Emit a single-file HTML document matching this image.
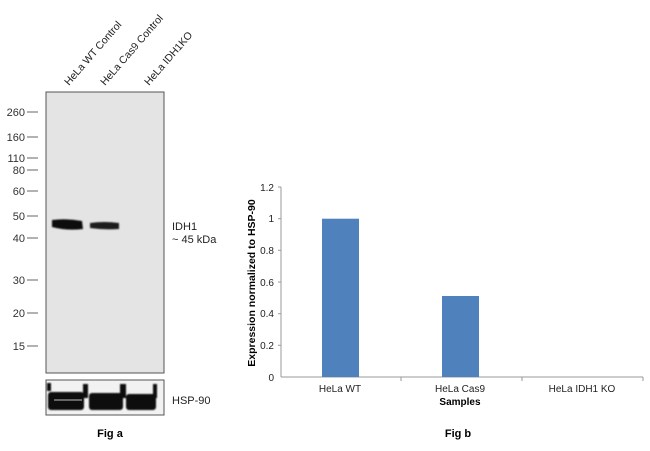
<!DOCTYPE html><html><head><style>body{margin:0;background:#fff}svg{font-family:"Liberation Sans",Arial,sans-serif}</style></head><body>
<svg width="650" height="446" viewBox="0 0 650 446">
<defs><filter id="b"><feGaussianBlur stdDeviation="0.9"/></filter></defs>
<rect x="46" y="92" width="118" height="281" fill="#e4e4e4" stroke="#555" stroke-width="1"/>
<g filter="url(#b)">
<path d="M52 220 Q67 218 82 221 L83 229 Q67 231 52 227 Z" fill="#111"/>
<path d="M90 223 Q104 221 119 223 L119 229 Q104 230 90 228 Z" fill="#1a1a1a"/>
</g>
<rect x="46" y="380" width="118" height="35" fill="#f2f2f2" stroke="#555"/>
<g filter="url(#b)" fill="#111">
<rect x="48" y="392" width="36" height="18" rx="3"/>
<rect x="89" y="393" width="34" height="17" rx="3"/>
<rect x="126" y="394" width="30" height="16" rx="3"/>
<rect x="47" y="383" width="4" height="8"/><rect x="83" y="384" width="5" height="14"/><rect x="120" y="384" width="6" height="14"/><rect x="153" y="384" width="4" height="14"/>
</g>
<rect x="54" y="399" width="28" height="2" fill="#666"/>
<g font-size="11" fill="#333" text-anchor="end">
<text x="25" y="116">260</text><text x="25" y="141">160</text><text x="25" y="162">110</text><text x="25" y="174">80</text><text x="25" y="195">60</text><text x="25" y="220">50</text><text x="25" y="242">40</text><text x="25" y="284">30</text><text x="25" y="317">20</text><text x="25" y="350">15</text>
</g>
<g stroke="#666" stroke-width="1">
<line x1="27" y1="112" x2="38" y2="112"/><line x1="27" y1="137" x2="38" y2="137"/><line x1="27" y1="158" x2="38" y2="158"/><line x1="27" y1="170" x2="38" y2="170"/><line x1="27" y1="191" x2="38" y2="191"/><line x1="27" y1="216" x2="38" y2="216"/><line x1="27" y1="238" x2="38" y2="238"/><line x1="27" y1="280" x2="38" y2="280"/><line x1="27" y1="313" x2="38" y2="313"/><line x1="27" y1="346" x2="38" y2="346"/>
</g>
<g font-size="10.5" fill="#222">
<text transform="translate(69,86) rotate(-49)">HeLa WT Control</text>
<text transform="translate(105,86) rotate(-49)">HeLa Cas9 Control</text>
<text transform="translate(149,86) rotate(-49)">HeLa IDH1KO</text>
</g>
<text x="172" y="230" font-size="11" fill="#222">IDH1</text>
<text x="172" y="243" font-size="11" fill="#222">~ 45 kDa</text>
<text x="172" y="404" font-size="11" fill="#222">HSP-90</text>
<text x="110" y="437" font-size="11" font-weight="bold" text-anchor="middle">Fig a</text>
<g stroke="#999" stroke-width="1">
<line x1="281" y1="187" x2="281" y2="377"/><line x1="281" y1="377" x2="643" y2="377"/>
<line x1="278" y1="187" x2="281" y2="187"/><line x1="278" y1="218.7" x2="281" y2="218.7"/><line x1="278" y1="250.3" x2="281" y2="250.3"/><line x1="278" y1="282" x2="281" y2="282"/><line x1="278" y1="313.7" x2="281" y2="313.7"/><line x1="278" y1="345.3" x2="281" y2="345.3"/>
<line x1="401" y1="377" x2="401" y2="381"/><line x1="522" y1="377" x2="522" y2="381"/><line x1="643" y1="377" x2="643" y2="381"/>
</g>
<g font-size="10" fill="#222" text-anchor="end">
<text x="274" y="191">1.2</text><text x="274" y="222">1</text><text x="274" y="254">0.8</text><text x="274" y="286">0.6</text><text x="274" y="317">0.4</text><text x="274" y="349">0.2</text><text x="274" y="381">0</text>
</g>
<rect x="322" y="218.7" width="37" height="158.3" fill="#4f81bd"/>
<rect x="442" y="296" width="37" height="81" fill="#4f81bd"/>
<g font-size="10" fill="#222" text-anchor="middle">
<text x="340" y="392">HeLa WT</text><text x="460" y="392">HeLa  Cas9</text><text x="582" y="392">HeLa  IDH1 KO</text>
</g>
<text x="460" y="405" font-size="10" font-weight="bold" text-anchor="middle">Samples</text>
<text transform="translate(255,283) rotate(-90)" font-size="10.5" font-weight="bold" text-anchor="middle">Expression  normalized to HSP-90</text>
<text x="458" y="437" font-size="11" font-weight="bold" text-anchor="middle">Fig b</text>
</svg></body></html>
